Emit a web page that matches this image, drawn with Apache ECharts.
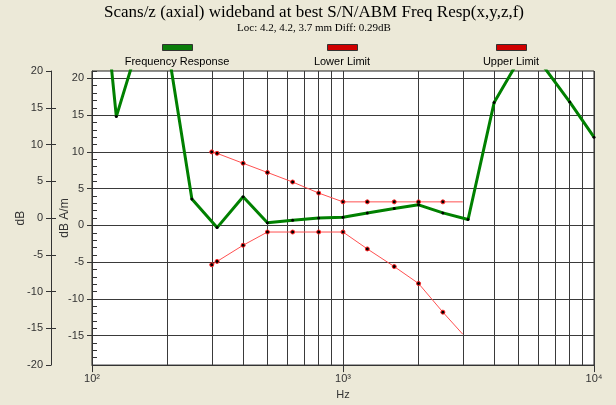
<!DOCTYPE html>
<html>
<head>
<meta charset="utf-8">
<title>Freq Resp</title>
<script src="https://cdn.jsdelivr.net/npm/echarts@6/dist/echarts.min.js"></script>
<style>
  html, body { margin: 0; padding: 0; background: #ece9d8; }
  #chart { width: 616px; height: 405px; }
</style>
</head>
<body>
<div id="chart"></div>
<script>
// 1/3 octave bands (Hz) and measured response (dB A/m)
const respFreq = [100, 125, 160, 200, 250, 315, 400, 500, 630, 800, 1000, 1250, 1600, 2000, 2500, 3150, 4000, 5000, 6300, 8000, 10000]
const respDb = [47.8, 14.8, 26.8, 24.4, 3.6, -0.3, 3.9, 0.35, 0.7, 1.0, 1.1, 1.7, 2.3, 2.8, 1.7, 0.8, 16.7, 22.4, 21.6, 16.8, 12.0]

// limit mask
const limitFreq = [300, 315, 400, 500, 630, 800, 1000, 1250, 1600, 2000, 2500, 3000]
const upperDb = [10.0, 9.8, 8.45, 7.2, 5.9, 4.4, 3.2, 3.2, 3.2, 3.2, 3.2, 3.2]
const lowerDb = [-5.35, -4.9, -2.7, -0.9, -0.9, -0.9, -0.9, -3.2, -5.6, -7.9, -11.8, -14.8]

// axes
const xDecades = [100, 1000, 10000]
const xTickLabels = ['10²', '10³', '10⁴']
const xGridValues = [100, 200, 300, 400, 500, 600, 700, 800, 900, 1000,
  2000, 3000, 4000, 5000, 6000, 7000, 8000, 9000, 10000]
const yInnerTicks = [-15, -10, -5, 0, 5, 10, 15, 20]
const yOuterTicks = [-20, -15, -10, -5, 0, 5, 10, 15, 20]

const seriesNames = ['Frequency Response', 'Lower Limit', 'Upper Limit']
const legendCenters = [177, 342, 511]

const chart = echarts.init(document.getElementById('chart'))

const axisGray = '#333'
const labelStyle = { color: '#333', fontSize: 11, fontFamily: 'Liberation Sans' }
const nameStyle = { color: '#333', fontSize: 12, fontFamily: 'Liberation Sans' }
const toPairs = (xs, ys) => xs.map((x, i) => [x, ys[i]])

const limitSeries = (name, values) => ({
  name: name,
  type: 'line',
  data: toPairs(limitFreq, values),
  lineStyle: { color: '#ff5050', width: 1 },
  symbol: 'circle',
  // last point (3 kHz) has no marker in the original
  symbolSize: (v, p) => p.dataIndex === limitFreq.length - 1 ? 0 : 4,
  itemStyle: { color: '#000', borderColor: '#ff2020', borderWidth: 1 },
  z: 2
})

const option = {
  backgroundColor: '#ece9d8',
  animation: false,
  title: {
    text: 'Scans/z (axial) wideband at best S/N/ABM Freq Resp(x,y,z,f)',
    subtext: 'Loc: 4.2, 4.2, 3.7 mm Diff: 0.29dB',
    left: 314,
    textAlign: 'center',
    top: 4,
    padding: 0,
    itemGap: 2,
    textStyle: { fontFamily: 'Liberation Serif', fontSize: 17, fontWeight: 'normal', color: '#000' },
    subtextStyle: { fontFamily: 'Liberation Serif', fontSize: 11, color: '#000' }
  },
  legend: seriesNames.map((name, i) => ({
    data: [{
      name: name,
      itemStyle: { color: i === 0 ? '#0a7d0a' : '#d00000', borderColor: '#333', borderWidth: 1 }
    }],
    left: legendCenters[i] - 15,
    top: 44,
    padding: 0,
    icon: 'rect',
    itemWidth: 30,
    itemHeight: 6,
    selectedMode: false,
    formatter: () => ''
  })),
  graphic: seriesNames.map((name, i) => ({
    type: 'text',
    x: legendCenters[i],
    y: 62,
    style: {
      text: name,
      textAlign: 'center',
      textVerticalAlign: 'middle',
      font: '11px "Liberation Sans"',
      fill: '#000'
    }
  })),
  grid: {
    left: 92,
    right: 22,
    top: 71,
    bottom: 36,
    show: true,
    backgroundColor: '#fff',
    borderColor: '#222',
    borderWidth: 1
  },
  xAxis: [{
    type: 'log',
    logBase: 10,
    min: 100,
    max: 10000,
    position: 'bottom',
    name: 'Hz',
    nameLocation: 'middle',
    nameGap: 22,
    nameTextStyle: labelStyle,
    axisLine: { onZero: false, lineStyle: { color: axisGray } },
    axisTick: { show: false, customValues: xGridValues },
    splitLine: { show: true, lineStyle: { color: '#3a3a3a', width: 1 } },
    axisLabel: Object.assign({
      customValues: xDecades,
      margin: 8,
      formatter: v => xTickLabels[Math.round(Math.log10(v)) - 2]
    }, labelStyle)
  }, {
    // decade ticks below the axis
    type: 'log',
    logBase: 10,
    min: 100,
    max: 10000,
    position: 'bottom',
    axisLine: { show: false, onZero: false },
    axisTick: { show: true, length: 7, customValues: xDecades, lineStyle: { color: axisGray } },
    axisLabel: { show: false },
    splitLine: { show: false }
  }],
  yAxis: [{
    // inner axis: dB A/m
    type: 'value',
    min: -19,
    max: 21,
    position: 'left',
    name: 'dB A/m',
    nameLocation: 'middle',
    nameGap: 21,
    nameMoveOverlap: false,
    nameTextStyle: nameStyle,
    axisLine: { show: true, onZero: false, lineStyle: { color: axisGray } },
    axisTick: { show: true, length: 5, customValues: yInnerTicks, lineStyle: { color: axisGray } },
    axisLabel: Object.assign({ customValues: yInnerTicks, margin: 8 }, labelStyle),
    splitLine: { show: true, lineStyle: { color: '#3a3a3a', width: 1 } }
  }, {
    // outer axis: dB
    type: 'value',
    min: -20,
    max: 20,
    interval: 5,
    position: 'left',
    offset: 41,
    name: 'dB',
    nameLocation: 'middle',
    nameGap: 24,
    nameMoveOverlap: false,
    nameTextStyle: nameStyle,
    axisLine: { show: true, onZero: false, lineStyle: { color: axisGray } },
    axisTick: { show: true, length: 5, lineStyle: { color: axisGray } },
    axisLabel: Object.assign({ margin: 8 }, labelStyle),
    splitLine: { show: false }
  }, {
    // outer axis ticks crossing to the right
    type: 'value',
    min: -20,
    max: 20,
    interval: 5,
    position: 'left',
    offset: 41,
    axisLine: { show: false, onZero: false },
    axisTick: { show: true, inside: true, length: 5, customValues: yOuterTicks.slice(1, -1), lineStyle: { color: axisGray } },
    axisLabel: { show: false },
    splitLine: { show: false }
  }, {
    // inner axis 1 dB minor ticks
    type: 'value',
    min: -19,
    max: 21,
    interval: 1,
    position: 'left',
    axisLine: { show: false, onZero: false },
    axisTick: { show: true, inside: true, length: 5, lineStyle: { color: axisGray } },
    axisLabel: { show: false },
    splitLine: { show: false }
  }],
  series: [{
    name: seriesNames[0],
    type: 'line',
    data: toPairs(respFreq, respDb),
    lineStyle: { color: '#008000', width: 3 },
    symbol: 'circle',
    symbolSize: 3,
    showAllSymbol: true,
    itemStyle: { color: '#000' },
    z: 3
  },
  limitSeries(seriesNames[1], lowerDb),
  limitSeries(seriesNames[2], upperDb)]
}

chart.setOption(option)
</script>
</body>
</html>
